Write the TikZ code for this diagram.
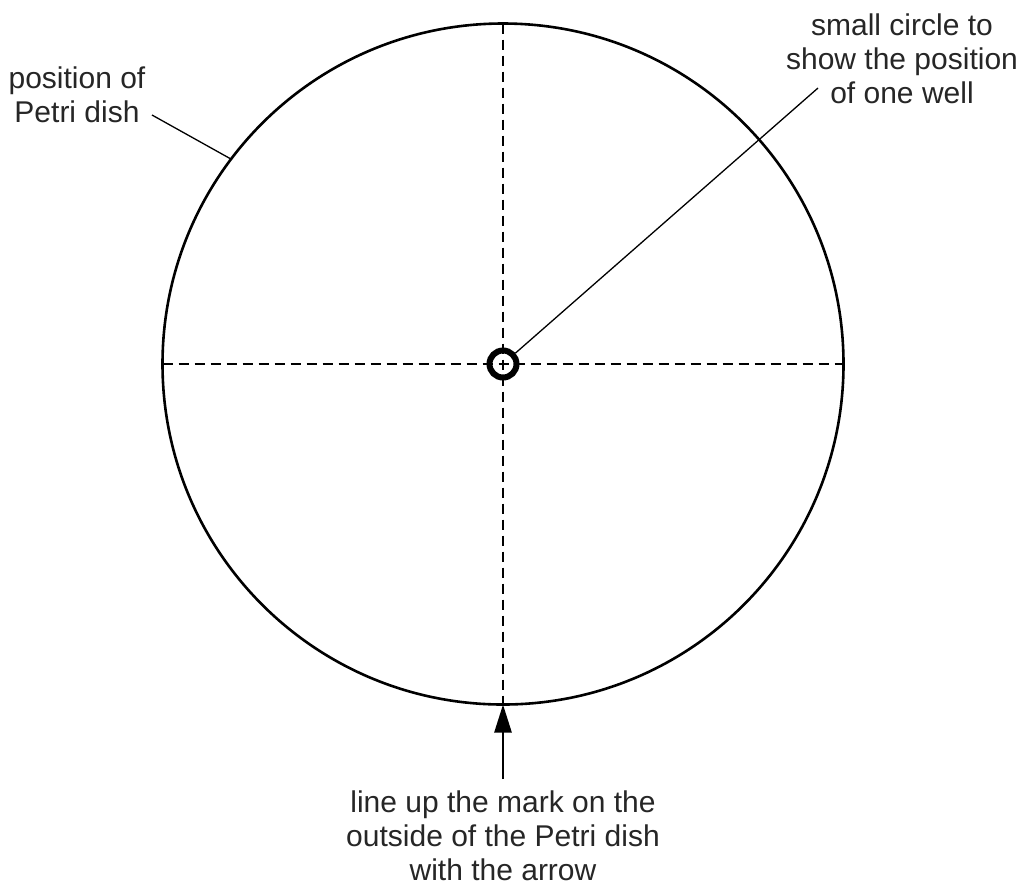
\documentclass[tikz,border=0pt]{standalone}
\usepackage{fontspec}
\setmainfont{Liberation Sans}
\usetikzlibrary{arrows.meta}
\tikzset{
  note/.style={align=center, text=black!85, font=\fontsize{15}{17}\selectfont, inner sep=0pt},
  leader/.style={line width=0.65pt},
  cross/.style={line width=1.2pt, dash pattern=on 5pt off 3pt}
}
\begin{document}
\begin{tikzpicture}[x=0.5pt, y=-0.5pt]
  \useasboundingbox (0,0) rectangle (1020,885);
  % Petri dish outline and the two guide lines
  \node[circle, draw, line width=1.3pt, minimum size=340.5pt, inner sep=0pt, outer sep=0pt] (dish) at (503,364) {};
  \draw[cross] (dish.north) -- (dish.south);
  \draw[cross] (dish.west) -- (dish.east);
  % position of the well
  \node[circle, draw, line width=3pt, minimum size=13.5pt, inner sep=0pt] (well) at (503,364) {};
  % labels
  \node[note] (dishnote) at (77,95) {position of\\Petri dish};
  \node[note] (wellnote) at (902,59) {small circle to\\show the position\\of one well};
  \node[note] (marknote) at (503,836) {line up the mark on the\\outside of the Petri dish\\with the arrow};
  \coordinate (dishtip) at (152,115);
  \coordinate (welltip) at (818,88);
  \coordinate (foot) at (503,779);
  \draw[leader] (dishtip) -- (dish.143.6);
  \draw[leader] (well) -- (welltip);
  \draw[line width=1.3pt, -{Triangle[length=14pt, width=8.5pt]}] (foot) -- (dish.south);
\end{tikzpicture}
\end{document}
